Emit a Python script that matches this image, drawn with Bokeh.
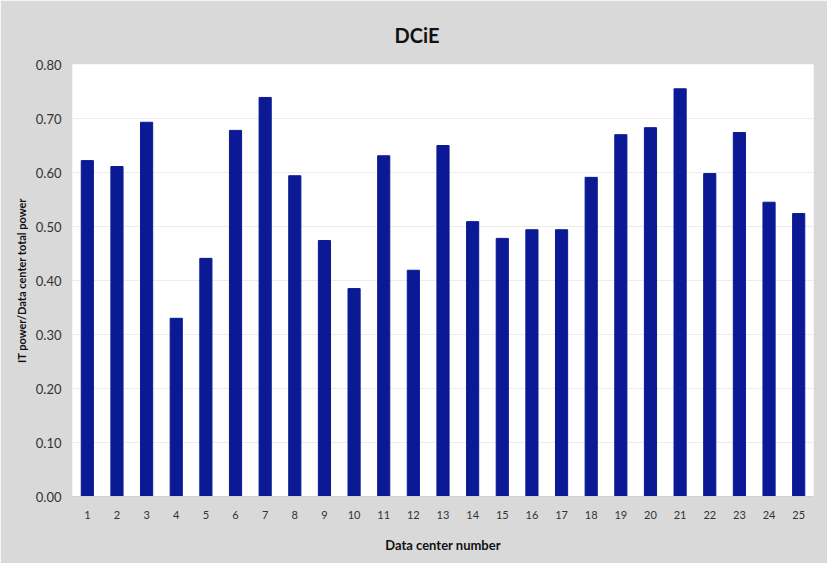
from bokeh.plotting import figure
from bokeh.embed import file_html
from bokeh.resources import INLINE
from bokeh.models import FixedTicker, NumeralTickFormatter, Range1d, ColumnDataSource

centers = [str(i) for i in range(1, 26)]
dcie = [0.622, 0.611, 0.693, 0.330, 0.441, 0.678, 0.739, 0.594, 0.474, 0.385,
        0.631, 0.419, 0.650, 0.509, 0.478, 0.494, 0.494, 0.591, 0.670, 0.683,
        0.755, 0.598, 0.674, 0.545, 0.524]
y_ticks = [0.0, 0.1, 0.2, 0.3, 0.4, 0.5, 0.6, 0.7, 0.8]

FONT = "Lato"

src = ColumnDataSource(dict(x=centers, y=dcie))

p = figure(x_range=centers, y_range=Range1d(0, 0.8), width=827, height=563,
           output_backend="svg", toolbar_location=None,
           min_border_left=72, min_border_right=14, min_border_top=64, min_border_bottom=67)

p.vbar(x="x", top="y", width=0.41, source=src, fill_color="#0b1a94", line_color="#0b1a94")

p.title.text = "DCiE"
p.title.align = "left"
p.title.offset = 322
p.title.standoff = 36
p.title.text_font = FONT
p.title.text_font_size = "20px"
p.title.text_font_style = "bold"
p.title.text_color = "#111111"

p.border_fill_color = "#d9d9d9"
p.background_fill_color = "white"
p.outline_line_color = None

p.yaxis.ticker = FixedTicker(ticks=y_ticks)
p.yaxis.formatter = NumeralTickFormatter(format="0.00")
p.yaxis.axis_label = "IT power/Data center total power"
p.xaxis.axis_label = "Data center number"

for ax in (p.xaxis, p.yaxis):
    ax.axis_label_text_font = FONT
    ax.axis_label_text_font_style = "bold"
    ax.axis_label_text_color = "#111111"
    ax.major_label_text_font = FONT
    ax.major_label_text_color = "#333333"
    ax.major_tick_line_color = None
    ax.minor_tick_line_color = None

p.yaxis.axis_line_color = None
p.yaxis.major_label_text_font_size = "13px"
p.yaxis.axis_label_text_font_size = "11px"
p.yaxis.major_label_standoff = 5
p.yaxis.axis_label_standoff = 5

p.xaxis.axis_line_color = "#d0d0d0"
p.xaxis.major_label_text_font_size = "11px"
p.xaxis.axis_label_text_font_size = "13px"
p.xaxis.major_label_standoff = 8
p.xaxis.axis_label_standoff = 15

p.xgrid.grid_line_color = None
p.ygrid.grid_line_color = "#ececec"

open("out.html", "w").write(file_html(p, INLINE))
